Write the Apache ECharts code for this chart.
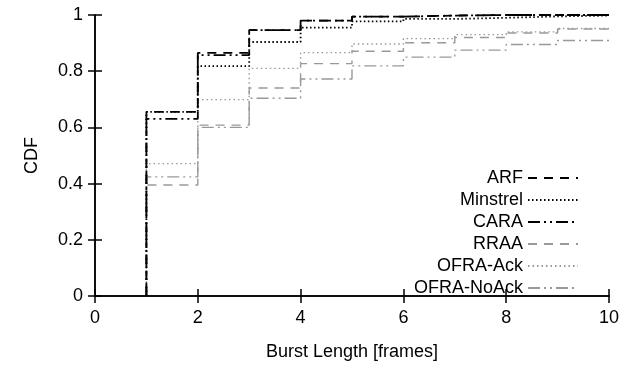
<!DOCTYPE html>
<html>
<head>
<meta charset="utf-8">
<script src="https://cdn.jsdelivr.net/npm/echarts@6/dist/echarts.min.js"></script>
<style>
  html, body { margin: 0; padding: 0; background: #fff; }
  #chart { width: 636px; height: 366px; }
</style>
</head>
<body>
<div id="chart"></div>
<script>
// CDF value on [k, k+1) for burst length k = 1..9
const burstLengths = [1, 2, 3, 4, 5, 6, 7, 8, 9];
const arf = [0.655, 0.865, 0.946, 0.98, 0.994, 0.998, 1.0, 1.0, 1.0];
const minstrel = [0.655, 0.818, 0.904, 0.955, 0.977, 0.986, 0.99, 0.995, 0.998];
const cara = [0.63, 0.857, 0.946, 0.98, 0.994, 0.998, 1.0, 1.0, 1.0];
const rraa = [0.395, 0.608, 0.74, 0.827, 0.871, 0.901, 0.92, 0.936, 0.95];
const ofraAck = [0.471, 0.699, 0.81, 0.866, 0.897, 0.916, 0.93, 0.94, 0.952];
const ofraNoAck = [0.424, 0.6, 0.704, 0.772, 0.819, 0.85, 0.875, 0.895, 0.909];
const xTicks = [0, 2, 4, 6, 8, 10];

const FONT = "Liberation Sans";
const BLACK = "#000";
const GRAY = "#999";

function toSteps(vals) {
  const pts = [[burstLengths[0], 0]];
  vals.forEach((v, i) => pts.push([burstLengths[i], v]));
  pts.push([10, vals[vals.length - 1]]);
  return pts;
}

function mk(name, vals, color, dash, width) {
  return {
    name: name,
    type: "line",
    step: "end",
    data: toSteps(vals),
    symbol: "none",
    animation: false,
    lineStyle: { color: color, width: width, type: dash },
    itemStyle: { color: color },
  };
}

const chart = echarts.init(document.getElementById("chart"), null, { renderer: "canvas" });

const axisLine = { show: true, lineStyle: { color: "#000", width: 1.5 } };
const tick = { show: true, inside: true, length: 7, lineStyle: { color: "#000", width: 1.5 } };
const txt = { fontFamily: FONT, fontSize: 18, color: "#000" };

chart.setOption({
  backgroundColor: "#fff",
  animation: false,
  grid: { left: 95, right: 27, top: 15, bottom: 64 },
  legend: {
    orient: "vertical",
    right: 52,
    top: 164,
    align: "right",
    itemWidth: 50,
    itemHeight: 12,
    itemGap: 4,
    itemStyle: { opacity: 0 },
    textStyle: txt,
    data: ["ARF", "Minstrel", "CARA", "RRAA", "OFRA-Ack", "OFRA-NoAck"],
  },
  xAxis: [
    {
      type: "value",
      min: 0,
      max: 10,
      interval: 2,
      name: "Burst Length [frames]",
      nameLocation: "middle",
      nameGap: 47,
      nameTextStyle: txt,
      axisLine: axisLine,
      axisTick: tick,
      splitLine: { show: false },
      axisLabel: Object.assign({ margin: 13, formatter: v => (xTicks.includes(v) ? String(v) : "") }, txt),
    },
    {
      type: "value",
      position: "top",
      min: 0,
      max: 10,
      interval: 2,
      axisLine: axisLine,
      axisTick: tick,
      splitLine: { show: false },
      axisLabel: { show: false },
    },
  ],
  yAxis: [
    {
      type: "value",
      min: 0,
      max: 1,
      interval: 0.2,
      name: "CDF",
      nameLocation: "middle",
      nameGap: 54,
      nameTextStyle: txt,
      axisLine: axisLine,
      axisTick: tick,
      splitLine: { show: false },
      axisLabel: Object.assign({ margin: 12, formatter: v => (v === 0 || v === 1 ? String(v) : v.toFixed(1)) }, txt),
    },
    {
      type: "value",
      position: "right",
      min: 0,
      max: 1,
      interval: 0.2,
      axisLine: axisLine,
      axisTick: tick,
      splitLine: { show: false },
      axisLabel: { show: false },
    },
  ],
  series: [
    mk("OFRA-NoAck", ofraNoAck, GRAY, [12, 4, 2, 4, 2, 4], 1.4),
    mk("OFRA-Ack", ofraAck, GRAY, [1.5, 3], 1.4),
    mk("RRAA", rraa, GRAY, [9, 7], 1.4),
    mk("Minstrel", minstrel, BLACK, [1.5, 2.5], 1.8),
    mk("CARA", cara, BLACK, [12, 4, 2, 4, 2, 4], 1.8),
    mk("ARF", arf, BLACK, [9, 7], 1.8),
  ],
});
</script>
</body>
</html>
